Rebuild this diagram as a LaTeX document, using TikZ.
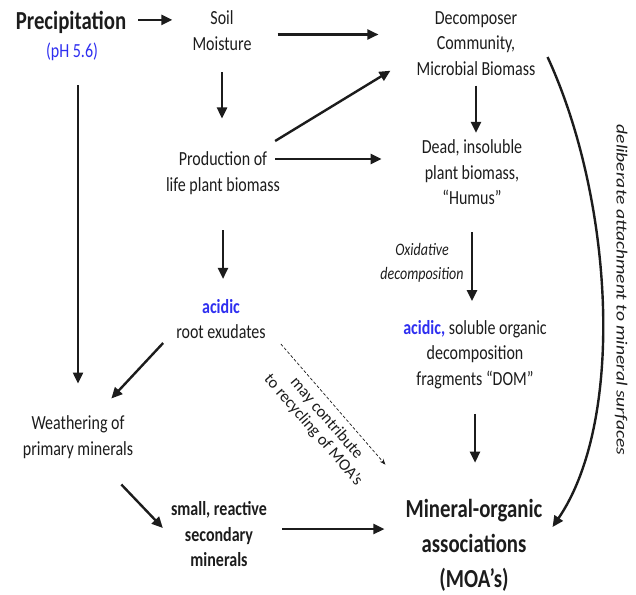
\documentclass[tikz,border=0pt]{standalone}
\usepackage{fontspec}
\setmainfont{Carlito}[FakeStretch=0.8]
\newfontfamily\plainfont{Carlito}
\usepackage{tikz}
\usetikzlibrary{arrows.meta, positioning}
\definecolor{AcidBlue}{HTML}{2F2FF0}
\definecolor{InkBlack}{HTML}{1C1C1C}
\tikzset{
  textnode/.style={inner sep=0pt, align=center, text=InkBlack, font=\fontsize{20}{25.5}\selectfont},
  bignode/.style={textnode, font=\fontsize{26}{35}\selectfont\bfseries},
  boldnode/.style={textnode, font=\fontsize{20}{25.5}\selectfont\bfseries},
  notenode/.style={textnode, font=\fontsize{17.5}{24}\selectfont\itshape},
  arrow/.style={-{Triangle[length=11pt,width=10pt]}, line width=2.4pt, InkBlack},
  dashedarrow/.style={-{Stealth[length=6pt,width=4.5pt]}, densely dashed, line width=0.7pt, InkBlack}
}

\begin{document}
\begin{tikzpicture}[x=1pt, y=-1pt]
  \useasboundingbox (0,0) rectangle (636,594);

  % Sources
  \node[bignode, anchor=base] (precip) at (71,30) {Precipitation};
  \node[textnode, anchor=base, text=AcidBlue] (ph) at (72,57) {(pH 5.6)};
  \node[textnode] (soil) at (222,30.5) {Soil\\Moisture};
  \node[textnode] (decomp) at (476,43.5) {Decomposer\\Community,\\Microbial Biomass};
  \node[textnode] (prod) at (223,173) {Production of\\life plant biomass};
  \node[textnode] (dead) at (472,172.5) {Dead, insoluble\\plant biomass,\\“Humus”};

  % Acids and minerals
  \node[textnode] (acid) at (221,319) {{\color{AcidBlue}\bfseries acidic}\\root exudates};
  \node[notenode] (oxid) at (422,263) {Oxidative\\decomposition};
  \node[textnode] (dom) at (475,354.5) {{\color{AcidBlue}\bfseries acidic,} soluble organic\\decomposition\\fragments “DOM”};
  \node[textnode] (weath) at (78,437) {Weathering of\\primary minerals};
  \node[boldnode] (small) at (219,534.5) {small, reactive\\secondary\\minerals};
  \node[bignode] (moa) at (474,545) {Mineral-organic\\associations\\(MOA’s)};
  \node[textnode, rotate=-90] (attachnote) at (621,290)
    {\scalebox{1}[0.8]{\plainfont\itshape\fontsize{19.5}{24}\selectfont deliberate attachment to mineral surfaces}};

  % Flows
  \draw[arrow, shorten <=12pt, shorten >=20pt] ([shift={(0,-3)}]precip.east) -- ([shift={(0,-3)}]precip.east -| soil.west);
  \draw[arrow, shorten <=26pt, shorten >=38pt] ([shift={(0,4)}]soil.east) -- ([shift={(0,4)}]soil.east -| decomp.west);
  \draw[arrow, shorten <=22pt, shorten >=33pt] (soil.south) -- (soil.south |- prod.north);
  \draw[arrow] ([shift={(-5,-32)}]prod.east) -- ([shift={(-26,-5)}]decomp.south west);
  \draw[arrow] ([shift={(-5,-14)}]prod.east) -- ([shift={(-40,-13.5)}]dead.west);
  \draw[arrow, shorten <=10pt, shorten >=7pt] (decomp.south) -- (decomp.south |- dead.north);
  \draw[arrow, shorten <=27pt, shorten >=19pt] (dead.south) -- (dead.south |- dom.north);
  \draw[arrow, shorten <=25pt, shorten >=36pt] (dom.south) -- (dom.south |- moa.north);
  \draw[arrow, shorten <=35.5pt, shorten >=20pt] (prod.south) -- (prod.south |- acid.north);
  \draw[arrow] ([shift={(-13,4)}]acid.south west) -- ([shift={(-22,-17)}]weath.north east);
  \draw[arrow, shorten <=25pt, shorten >=32pt] (ph.south -| weath.north) -- (weath.north);
  \draw[arrow] ([shift={(-12,26)}]weath.south east) -- ([shift={(-8,-6.5)}]small.west);
  \draw[arrow] ([shift={(15,-5.5)}]small.east) -- ([shift={(-21,-16)}]moa.west);
  \draw[dashedarrow] ([shift={(15,5)}]acid.south east) -- ([shift={(-20,-34)}]moa.north west)
    node[pos=0.54, sloped, below=7pt, inner sep=0pt, align=center, font=\plainfont\fontsize{16.5}{17.5}\selectfont, text=InkBlack]
    (recyclenote) {may contribute\\to recycling of MOA’s};
  \draw[arrow] ([shift={(12,13.5)}]decomp.east) .. controls +(66,143) and +(73,-107) .. ([shift={(10,-18)}]moa.east);
\end{tikzpicture}
\end{document}
